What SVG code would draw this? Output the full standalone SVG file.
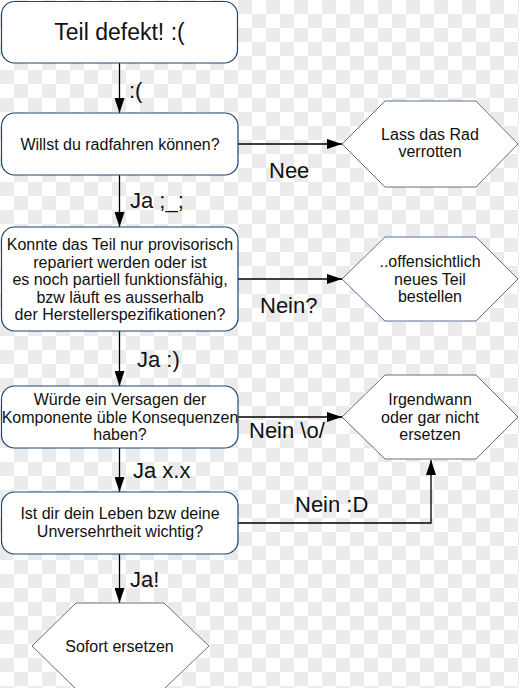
<svg xmlns="http://www.w3.org/2000/svg" width="519" height="688" viewBox="0 0 519 688">
<style>
text{font-family:"Liberation Sans",Arial,sans-serif;fill:#111;text-anchor:middle}
.box{fill:#fff;stroke:#1c4770;stroke-width:1.2}
.hex{fill:#fff;stroke:#5a7090;stroke-width:1}
.t{font-size:16px}
.title{font-size:23px}
.lbl{font-size:22px;text-anchor:start}
.con{fill:none;stroke:#000;stroke-width:1.3}
</style>
<defs>
<pattern id="chk" x="0" y="0" width="28" height="28" patternUnits="userSpaceOnUse">
<rect width="28" height="28" fill="#fff"/>
<rect x="14" y="0" width="14" height="14" fill="#ebebeb"/>
<rect x="0" y="14" width="14" height="14" fill="#ebebeb"/>
</pattern>
<marker id="arr" viewBox="0 0 15 10" refX="15" refY="5" markerWidth="15" markerHeight="10" markerUnits="userSpaceOnUse" orient="auto">
<path d="M0,0 L15,5 L0,10 z" fill="#000"/>
</marker>
</defs>
<rect width="519" height="688" fill="url(#chk)"/>

<g id="connectors">
<line class="con" x1="119.5" y1="63" x2="119.5" y2="113" marker-end="url(#arr)"/>
<line class="con" x1="238" y1="144" x2="342" y2="144" marker-end="url(#arr)"/>
<line class="con" x1="119.5" y1="175" x2="119.5" y2="227" marker-end="url(#arr)"/>
<line class="con" x1="238" y1="279" x2="342" y2="279" marker-end="url(#arr)"/>
<line class="con" x1="119.5" y1="331" x2="119.5" y2="386" marker-end="url(#arr)"/>
<line class="con" x1="238" y1="417" x2="342" y2="417" marker-end="url(#arr)"/>
<line class="con" x1="119.5" y1="448" x2="119.5" y2="492" marker-end="url(#arr)"/>
<polyline class="con" points="238,523 431,523 431,460" marker-end="url(#arr)"/>
<line class="con" x1="119.5" y1="554" x2="119.5" y2="603" marker-end="url(#arr)"/>
<text class="lbl" x="129" y="98">:(</text>
<text class="lbl" x="269" y="178">Nee</text>
<text class="lbl" x="130" y="208">Ja ;_;</text>
<text class="lbl" x="260" y="313">Nein?</text>
<text class="lbl" x="137" y="367">Ja :)</text>
<text class="lbl" x="249" y="438">Nein \o/</text>
<text class="lbl" x="133" y="478">Ja x.x</text>
<text class="lbl" x="295" y="512">Nein :D</text>
<text class="lbl" x="130" y="587">Ja!</text>
</g>

<g id="start">
<rect class="box" x="1.5" y="1.5" width="236" height="61.5" rx="13"/>
<text class="title" x="119.5" y="40">Teil defekt! :(</text>
</g>

<g id="q1">
<rect class="box" x="1.5" y="113" width="236.5" height="62" rx="13"/>
<text class="t" x="120" y="150">Willst du radfahren können?</text>
</g>

<g id="e1">
<polygon class="hex" points="342,144 385,101 476,101 518,144 476,187 385,187"/>
<text class="t" x="430" y="140">Lass das Rad</text>
<text class="t" x="430" y="157">verrotten</text>
</g>

<g id="q2">
<rect class="box" x="1.5" y="227" width="236.5" height="104" rx="13"/>
<text class="t" x="120" y="250">Konnte das Teil nur provisorisch</text>
<text class="t" x="120" y="267.5">repariert werden oder ist</text>
<text class="t" x="120" y="285">es noch partiell funktionsfähig,</text>
<text class="t" x="120" y="302.5">bzw läuft es ausserhalb</text>
<text class="t" x="120" y="320">der Herstellerspezifikationen?</text>
</g>

<g id="e2">
<polygon class="hex" points="342,279 385,237 476,237 518,279 476,321 385,321"/>
<text class="t" x="430" y="267">..offensichtlich</text>
<text class="t" x="430" y="284.5">neues Teil</text>
<text class="t" x="430" y="302">bestellen</text>
</g>

<g id="q3">
<rect class="box" x="1.5" y="386" width="236.5" height="62" rx="13"/>
<text class="t" x="120" y="405">Würde ein Versagen der</text>
<text class="t" x="120" y="423">Komponente üble Konsequenzen</text>
<text class="t" x="120" y="440">haben?</text>
</g>

<g id="e3">
<polygon class="hex" points="342,417 385,375 476,375 518,417 476,459 385,459"/>
<text class="t" x="430" y="405">Irgendwann</text>
<text class="t" x="430" y="423">oder gar nicht</text>
<text class="t" x="430" y="440">ersetzen</text>
</g>

<g id="q4">
<rect class="box" x="1.5" y="492" width="236.5" height="62" rx="13"/>
<text class="t" x="120" y="519">Ist dir dein Leben bzw deine</text>
<text class="t" x="120" y="537">Unversehrtheit wichtig?</text>
</g>

<g id="e4">
<polygon class="hex" points="32,646 76,603 164,603 209,646 164,689 76,689"/>
<text class="t" x="119.5" y="652">Sofort ersetzen</text>
</g>
</svg>
